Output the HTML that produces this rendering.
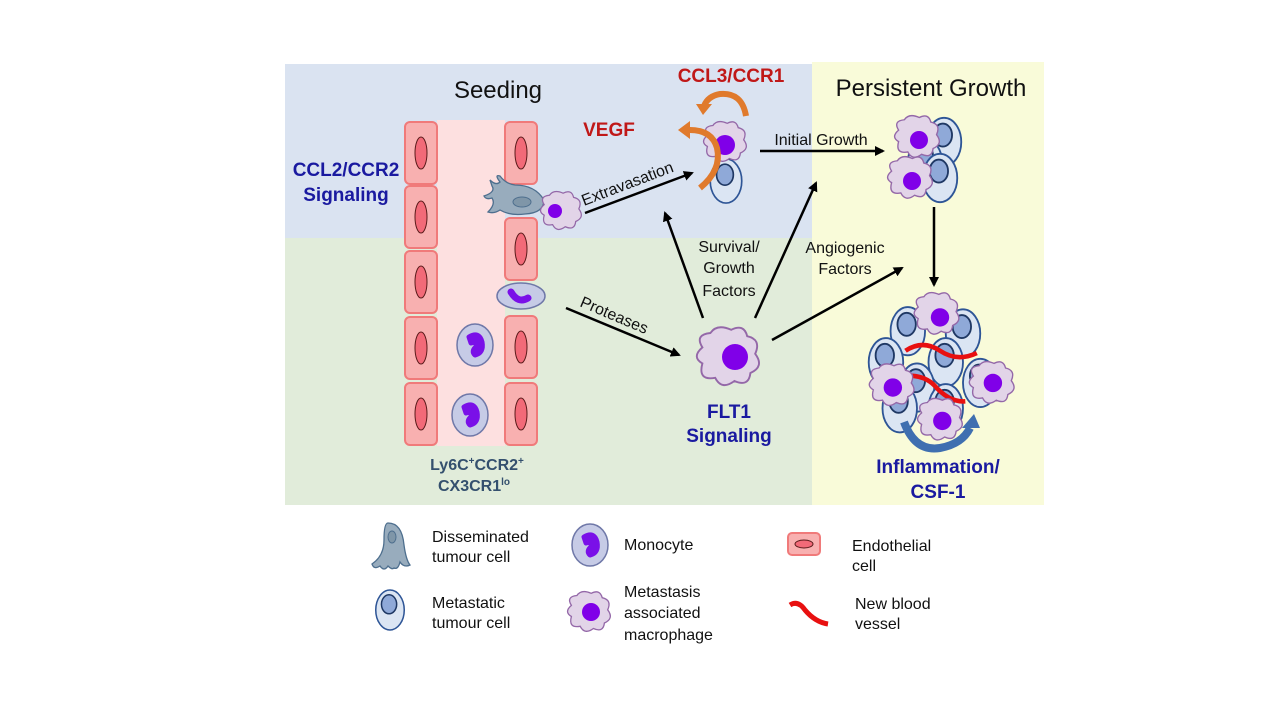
<!DOCTYPE html>
<html><head><meta charset="utf-8"><style>
html,body{margin:0;padding:0;background:#fff;}
svg{display:block;font-family:"Liberation Sans",sans-serif;}
</style></head><body>
<svg width="1280" height="720" viewBox="0 0 1280 720" xmlns="http://www.w3.org/2000/svg">
<defs>
<g id="mac"><path d="M-16,-6 Q-21,-14 -11,-15 Q-7,-21 2,-17 Q10,-21 12,-13 Q21,-11 17,-2 Q23,6 14,10 Q13,19 4,15 Q-4,21 -8,13 Q-19,15 -16,4 Q-23,0 -16,-6Z" fill="#e2d4e8" stroke="#9468a8" stroke-width="1.2"/></g>
<g id="tum"><ellipse cx="0" cy="0" rx="15" ry="21" fill="#dbe5f3" stroke="#2e5596" stroke-width="1.6"/><ellipse cx="-1" cy="-6" rx="8" ry="10" fill="#8fa9d8" stroke="#1f3864" stroke-width="1.6"/></g>
<g id="endo"><rect x="0" y="0" width="32" height="62" rx="5" fill="#f8b0b0" stroke="#f07a7a" stroke-width="2"/><ellipse cx="16" cy="31" rx="6" ry="16" fill="#f26a78" stroke="#5a1a1a" stroke-width="1"/></g>
<g id="mono"><ellipse cx="0" cy="0" rx="18" ry="21" fill="#c6cbe6" stroke="#6f78a8" stroke-width="1.5"/><path d="M-6,-8 Q4,-14 7,-3 Q9,8 0,10 Q-4,6 1,2 Q2,-4 -4,-2 Z" fill="#7a10e8" stroke="#7a10e8" stroke-width="5" stroke-linejoin="round"/></g>
<marker id="ah" markerWidth="10" markerHeight="10" refX="8" refY="5" orient="auto" markerUnits="userSpaceOnUse"><path d="M0,0 L10,5 L0,10 Z" fill="#000"/></marker>
</defs>

<rect x="285" y="64" width="527" height="174" fill="#dae3f1"/>
<rect x="285" y="238" width="527" height="267" fill="#e1ecda"/>
<rect x="812" y="62" width="232" height="443" fill="#f9fbd9"/>

<text x="498" y="98" font-size="24" text-anchor="middle" fill="#111">Seeding</text>
<text x="931" y="96" font-size="24" text-anchor="middle" fill="#111">Persistent Growth</text>

<rect x="437" y="120" width="68" height="326" fill="#fde0e0"/>
<use href="#endo" x="405" y="122"/><use href="#endo" x="405" y="186"/><use href="#endo" x="405" y="251"/><use href="#endo" x="405" y="317"/><use href="#endo" x="405" y="383"/>
<use href="#endo" x="505" y="122"/><use href="#endo" x="505" y="218"/><use href="#endo" x="505" y="316"/><use href="#endo" x="505" y="383"/>
<use href="#mono" x="475" y="345"/><use href="#mono" x="470" y="415"/>
<g transform="translate(521,296) rotate(-90)"><ellipse cx="0" cy="0" rx="13" ry="24" fill="#c6cbe6" stroke="#6f78a8" stroke-width="1.5"/></g>
<path d="M511,292 Q518,304 528,298" fill="none" stroke="#7a10e8" stroke-width="7" stroke-linecap="round"/>

<path d="M490,180 Q496,186 500,182 Q494,174 500,176 Q506,184 515,185 Q535,185 544,200 Q544,213 525,214 Q510,216 500,210 Q494,214 488,212 Q496,204 492,198 Q486,200 484,196 Q496,192 492,186 Z" fill="#98acbd" stroke="#4e6f8e" stroke-width="1.3"/>
<ellipse cx="522" cy="202" rx="9" ry="5" fill="#7f96a8" stroke="#4e6f8e"/>
<g transform="translate(561,211) scale(1.05)"><use href="#mac"/></g>
<circle cx="555" cy="211" r="7" fill="#8000e8"/>

<text x="346" y="176" font-size="19" font-weight="bold" fill="#1a1aa0" text-anchor="middle">CCL2/CCR2</text>
<text x="346" y="201" font-size="19" font-weight="bold" fill="#1a1aa0" text-anchor="middle">Signaling</text>
<text x="609" y="136" font-size="19" font-weight="bold" fill="#c01818" text-anchor="middle">VEGF</text>
<text x="731" y="82" font-size="19" font-weight="bold" fill="#c01818" text-anchor="middle">CCL3/CCR1</text>
<text x="477" y="470" font-size="16" font-weight="bold" fill="#34506e" text-anchor="middle">Ly6C<tspan font-size="10" dy="-6">+</tspan><tspan dy="6">CCR2</tspan><tspan font-size="10" dy="-6">+</tspan></text>
<text x="474" y="491" font-size="16" font-weight="bold" fill="#34506e" text-anchor="middle">CX3CR1<tspan font-size="10" dy="-6">lo</tspan></text>

<g transform="translate(726,181) scale(1.05)"><use href="#tum"/></g>
<g transform="translate(725,142) scale(1.1)"><use href="#mac"/></g>
<circle cx="725" cy="145" r="10" fill="#8000e8"/>
<path d="M746,116 Q742,92 720,94 Q708,96 704,106" fill="none" stroke="#e07a2c" stroke-width="6"/>
<polygon points="696,104 712,104 703,115" fill="#e07a2c"/>
<path d="M700,188 Q722,170 717,148 Q712,130 690,130" fill="none" stroke="#e07a2c" stroke-width="6"/>
<polygon points="690,121 690,139 678,130" fill="#e07a2c"/>

<g stroke="#000" stroke-width="2.5" fill="none" marker-end="url(#ah)">
<line x1="585" y1="213" x2="692" y2="173"/>
<line x1="703" y1="318" x2="665" y2="213"/>
<line x1="755" y1="318" x2="816" y2="183"/>
<line x1="772" y1="340" x2="902" y2="268"/>
<line x1="760" y1="151" x2="883" y2="151"/>
<line x1="934" y1="207" x2="934" y2="285"/>
<line x1="566" y1="308" x2="679" y2="355"/>
</g>
<text transform="translate(584,206) rotate(-21)" font-size="16" fill="#111">Extravasation</text>
<text transform="translate(579,306) rotate(23)" font-size="16" fill="#111">Proteases</text>
<text x="821" y="145" font-size="16" fill="#111" text-anchor="middle">Initial Growth</text>
<text x="729" y="252" font-size="16" fill="#111" text-anchor="middle">Survival/</text>
<text x="729" y="273" font-size="16" fill="#111" text-anchor="middle">Growth</text>
<text x="729" y="296" font-size="16" fill="#111" text-anchor="middle">Factors</text>
<text x="845" y="253" font-size="16" fill="#111" text-anchor="middle">Angiogenic</text>
<text x="845" y="274" font-size="16" fill="#111" text-anchor="middle">Factors</text>

<g transform="translate(728,357) scale(1.6)"><use href="#mac"/></g>
<circle cx="735" cy="357" r="13" fill="#8000e8"/>
<text x="729" y="418" font-size="19" font-weight="bold" fill="#1a1aa0" text-anchor="middle">FLT1</text>
<text x="729" y="442" font-size="19" font-weight="bold" fill="#1a1aa0" text-anchor="middle">Signaling</text>

<g transform="translate(944,142) scale(1.15)"><use href="#tum"/></g>
<g transform="translate(925,163) scale(1.15)"><use href="#tum"/></g>
<g transform="translate(940,178) scale(1.15)"><use href="#tum"/></g>
<g transform="translate(917,137) scale(1.15)"><use href="#mac"/></g><circle cx="919" cy="140" r="9" fill="#8000e8"/>
<g transform="translate(910,178) scale(1.15)"><use href="#mac"/></g><circle cx="912" cy="181" r="9" fill="#8000e8"/>

<g transform="translate(940,368) scale(1.15) translate(-940,-355)">
<use href="#tum" x="912" y="323"/>
<use href="#tum" x="960" y="325"/>
<use href="#tum" x="893" y="350"/>
<use href="#tum" x="945" y="350"/>
<use href="#tum" x="975" y="368"/>
<use href="#tum" x="920" y="372"/>
<use href="#tum" x="905" y="390"/>
<use href="#tum" x="945" y="390"/>
<path d="M910,340 Q925,330 940,340 Q955,350 972,342" fill="none" stroke="#e81010" stroke-width="4"/>
<path d="M907,362 Q925,360 935,370 Q948,385 962,384" fill="none" stroke="#e81010" stroke-width="4"/>
<g transform="translate(937,308)"><use href="#mac"/></g><circle cx="940" cy="311" r="8" fill="#8000e8"/>
<g transform="translate(898,370)"><use href="#mac"/></g><circle cx="899" cy="372" r="8" fill="#8000e8"/>
<g transform="translate(985,368)"><use href="#mac"/></g><circle cx="986" cy="368" r="8" fill="#8000e8"/>
<g transform="translate(940,400)"><use href="#mac"/></g><circle cx="942" cy="401" r="8" fill="#8000e8"/>
</g>
<path d="M904,422 Q915,452 940,448 Q962,444 970,428" fill="none" stroke="#3f6fb0" stroke-width="8"/>
<polygon points="962,428 980,428 974,414" fill="#3f6fb0"/>
<text x="938" y="473" font-size="19" font-weight="bold" fill="#1a1aa0" text-anchor="middle">Inflammation/</text>
<text x="938" y="498" font-size="19" font-weight="bold" fill="#1a1aa0" text-anchor="middle">CSF-1</text>

<path d="M388,523 Q402,523 404,545 Q406,560 410,565 Q404,568 400,562 Q398,570 394,568 Q392,570 388,566 Q384,572 380,566 Q374,570 372,564 Q384,556 384,540 Q384,523 388,523Z" fill="#98acbd" stroke="#4e6f8e" stroke-width="1.3"/>
<ellipse cx="392" cy="537" rx="4" ry="6" fill="#7f96a8" stroke="#4e6f8e"/>
<text x="432" y="542" font-size="16" fill="#111">Disseminated</text>
<text x="432" y="562" font-size="16" fill="#111">tumour cell</text>
<g transform="translate(390,610) scale(0.95)"><use href="#tum"/></g>
<text x="432" y="608" font-size="16" fill="#111">Metastatic</text>
<text x="432" y="628" font-size="16" fill="#111">tumour cell</text>
<use href="#mono" x="590" y="545"/>
<text x="624" y="550" font-size="16" fill="#111">Monocyte</text>
<g transform="translate(589,612) scale(1.1)"><use href="#mac"/></g><circle cx="591" cy="612" r="9" fill="#8000e8"/>
<text x="624" y="597" font-size="16" fill="#111">Metastasis</text>
<text x="624" y="618" font-size="16" fill="#111">associated</text>
<text x="624" y="640" font-size="16" fill="#111">macrophage</text>
<rect x="788" y="533" width="32" height="22" rx="4" fill="#f8b0b0" stroke="#f07a7a" stroke-width="2"/>
<ellipse cx="804" cy="544" rx="9" ry="4" fill="#f26a78" stroke="#5a1a1a"/>
<text x="852" y="551" font-size="16" fill="#111">Endothelial</text>
<text x="852" y="571" font-size="16" fill="#111">cell</text>
<path d="M790,605 Q798,600 805,610 Q815,622 828,624" fill="none" stroke="#e81010" stroke-width="5"/>
<text x="855" y="609" font-size="16" fill="#111">New blood</text>
<text x="855" y="629" font-size="16" fill="#111">vessel</text>
</svg>
</body></html>
